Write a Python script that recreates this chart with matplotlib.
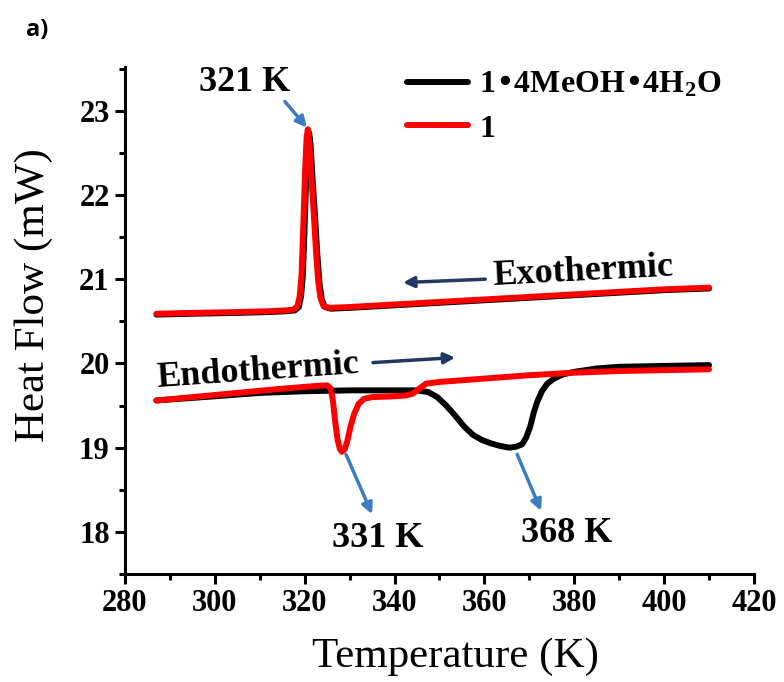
import matplotlib
matplotlib.use("Agg")
import matplotlib.pyplot as plt
from matplotlib.ticker import MultipleLocator

plt.rcParams['font.family'] = ['Liberation Serif', 'DejaVu Serif']
plt.rcParams['mathtext.default'] = 'regular'

# DSC curves: temperature (K) vs heat flow (mW)
# cooling (exothermic) curves
t_cool_red = [287, 295, 305, 312, 316, 317.5, 318.4, 318.9, 319.3, 319.7, 320.1, 320.45,
              320.7, 321.0, 321.5, 322.0, 322.5, 323.0, 323.5, 324.2, 325.5, 330, 340,
              350, 360, 370, 380, 390, 400, 410]
hf_cool_red = [20.59, 20.60, 20.61, 20.62, 20.63, 20.64, 20.68, 20.80, 21.05, 21.65, 22.3,
               22.70, 22.78, 22.65, 22.20, 21.80, 21.35, 20.98, 20.78, 20.68, 20.66, 20.67,
               20.70, 20.73, 20.76, 20.79, 20.82, 20.85, 20.88, 20.90]
t_cool_black = [287, 295, 305, 312, 316, 317.8, 318.7, 319.2, 319.6, 320.0, 320.4, 320.75,
                321.0, 321.3, 321.8, 322.3, 322.8, 323.3, 323.8, 324.5, 325.8, 330, 340,
                350, 360, 370, 380, 390, 400, 410]
hf_cool_black = [20.58, 20.59, 20.60, 20.61, 20.62, 20.63, 20.67, 20.80, 21.05, 21.65, 22.3,
                 22.68, 22.74, 22.60, 22.15, 21.75, 21.30, 20.95, 20.76, 20.67, 20.65, 20.66,
                 20.69, 20.72, 20.75, 20.78, 20.81, 20.84, 20.87, 20.89]

# heating (endothermic) curves
t_heat_black = [287, 300, 310, 320, 330, 340, 345, 347.5, 349.5, 351.5, 353.5, 355.5,
                357.5, 359.5, 361.5, 363.5, 365.5, 367.0, 368.4, 369.3, 370.2, 371.0,
                371.8, 372.8, 374.0, 375.5, 377.5, 380, 385, 390, 400, 410]
hf_heat_black = [19.56, 19.61, 19.65, 19.67, 19.68, 19.68, 19.68, 19.66, 19.60, 19.50,
                 19.38, 19.25, 19.15, 19.09, 19.05, 19.02, 19.00, 19.01, 19.04, 19.12,
                 19.25, 19.42, 19.55, 19.67, 19.76, 19.82, 19.87, 19.90, 19.94, 19.96,
                 19.97, 19.98]
t_heat_red = [287, 295, 305, 315, 322, 325.0, 325.8, 326.3, 326.8, 327.3, 327.8, 328.3,
              328.9, 329.5, 330.2, 331.0, 332.0, 333.2, 335, 340, 342.5, 344, 345.5, 347,
              350, 360, 370, 380, 390, 400, 410]
hf_heat_red = [19.56, 19.60, 19.65, 19.70, 19.73, 19.74, 19.70, 19.55, 19.30, 19.10,
               18.99, 18.95, 18.98, 19.08, 19.25, 19.40, 19.52, 19.58, 19.60, 19.61,
               19.62, 19.64, 19.70, 19.76, 19.78, 19.82, 19.86, 19.89, 19.91, 19.92, 19.93]

fig = plt.figure(figsize=(7.84, 6.82), dpi=100)
ax = fig.add_axes([0.1594, 0.1584, 0.8023, 0.7434])

lw = 4.3
ax.plot(t_cool_black, hf_cool_black, color='black', lw=lw, solid_capstyle='round')
ax.plot(t_heat_black, hf_heat_black, color='black', lw=lw, solid_capstyle='round',
        label='1•4MeOH•4H$_2$O')
ax.plot(t_cool_red, hf_cool_red, color='#ff0000', lw=lw, solid_capstyle='round')
ax.plot(t_heat_red, hf_heat_red, color='#ff0000', lw=lw, solid_capstyle='round', label='1')

ax.set_xlim(280, 420)
ax.set_ylim(17.5, 23.52)
ax.xaxis.set_major_locator(MultipleLocator(20))
ax.xaxis.set_minor_locator(MultipleLocator(10))
ax.yaxis.set_major_locator(MultipleLocator(1))
ax.yaxis.set_minor_locator(MultipleLocator(0.5))

for s in ['top', 'right']:
    ax.spines[s].set_visible(False)
for s in ['left', 'bottom']:
    ax.spines[s].set_linewidth(2.2)
ax.tick_params(which='major', direction='out', length=7, width=2.2, labelsize=22, pad=4)
ax.tick_params(which='minor', direction='out', length=4.5, width=2.2)
for lab in ax.get_xticklabels() + ax.get_yticklabels():
    lab.set_fontweight('bold')

ax.set_xlabel('Temperature (K)', fontsize=31)
ax.set_ylabel('Heat Flow (mW)', fontsize=31)
ax.xaxis.set_label_coords(0.525, -0.125)
ax.yaxis.set_label_coords(-0.115, 0.55)

leg = ax.legend(loc='upper left', bbox_to_anchor=(0.403, 1.05), frameon=False,
                handlelength=1.9, handletextpad=0.35, labelspacing=0.45,
                prop={'family': 'Liberation Serif', 'weight': 'bold', 'size': 23})

# peak labels with arrows
blue = '#3b7dc4'
navy = '#1f3864'
lbl = dict(fontsize=26, fontweight='bold', ha='center', va='center')
arr_blue = dict(arrowstyle='-|>', color=blue, lw=2.5, mutation_scale=16, shrinkA=0, shrinkB=0)
ax.annotate('', xy=(320.5, 22.8), xytext=(315.6, 23.11), arrowprops=arr_blue)
ax.text(306.7, 23.34, '321 K', **lbl)
ax.annotate('', xy=(335.0, 18.21), xytext=(329.2, 18.92), arrowprops=arr_blue)
ax.text(336.3, 17.92, '331 K', **lbl)
ax.annotate('', xy=(372.6, 18.25), xytext=(367.3, 18.92), arrowprops=arr_blue)
ax.text(378.4, 17.98, '368 K', **lbl)

# direction of heat flow
arr_navy = dict(arrowstyle='-|>', color=navy, lw=2.5, mutation_scale=16, shrinkA=0, shrinkB=0)
ax.text(309.6, 19.9, 'Endothermic', fontsize=26, fontweight='bold', rotation=4,
        ha='center', va='center')
ax.annotate('', xy=(353.5, 20.07), xytext=(335.2, 20.01), arrowprops=arr_navy)
ax.text(382.0, 21.09, 'Exothermic', fontsize=26, fontweight='bold', rotation=3,
        ha='center', va='center')
ax.annotate('', xy=(341.9, 20.96), xytext=(360.2, 21.0), arrowprops=arr_navy)

fig.text(37 / 784, 1 - 30 / 682, 'a)', fontsize=17, fontweight='bold',
         family=['Open Sans', 'DejaVu Sans'], ha='center', va='center')

fig.savefig('out.png', dpi=100)
